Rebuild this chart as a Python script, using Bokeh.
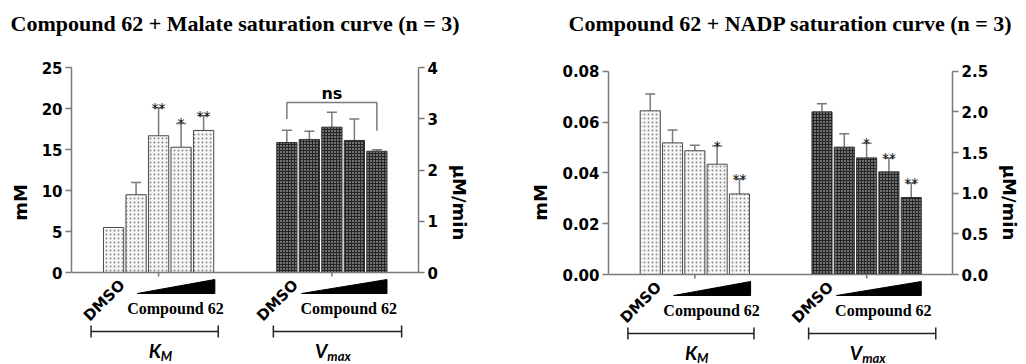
import math
import numpy as np
from bokeh.plotting import figure
from bokeh.layouts import row
from bokeh.models import (Range1d, LinearAxis, FixedTicker, ColumnDataSource, Whisker,
                          TeeHead, PrintfTickFormatter, Span)
from bokeh.core.properties import value
from bokeh.embed import file_html
from bokeh.resources import INLINE

# ---------------- data ----------------
conditions = ["DMSO", "Compound 62 (1)", "Compound 62 (2)", "Compound 62 (3)", "Compound 62 (4)"]

malate_km = [5.5, 9.5, 16.7, 15.3, 17.35]            # mM (left axis)
malate_km_err = [0.0, 1.5, 3.4, 2.9, 1.8]
malate_km_sig = ["", "", "**", "*", "**"]
malate_vmax = [2.54, 2.60, 2.84, 2.58, 2.37]         # µM/min (right axis)
malate_vmax_err = [0.24, 0.16, 0.29, 0.42, 0.03]
malate_vmax_sig = ["", "", "", "", ""]

nadp_km = [0.0644, 0.0518, 0.0487, 0.0434, 0.0317]   # mM (left axis)
nadp_km_err = [0.0066, 0.0051, 0.0022, 0.0072, 0.0058]
nadp_km_sig = ["", "", "", "*", "**"]
nadp_vmax = [2.00, 1.566, 1.434, 1.262, 0.947]       # µM/min (right axis)
nadp_vmax_err = [0.10, 0.164, 0.181, 0.168, 0.176]
nadp_vmax_sig = ["", "", "*", "**", "**"]

malate_left_ticks = [0, 5, 10, 15, 20, 25]
malate_right_ticks = [0, 1, 2, 3, 4]
nadp_left_ticks = [0.00, 0.02, 0.04, 0.06, 0.08]
nadp_right_ticks = [0.0, 0.5, 1.0, 1.5, 2.0, 2.5]

titles = ["Compound 62 + Malate saturation curve (n = 3)",
          "Compound 62 + NADP saturation curve (n = 3)"]
group_labels = [("K", "M"), ("V", "max")]
control_label = "DMSO"
drug_label = "Compound 62"
ns_label = "ns"

# ---------------- layout constants ----------------
H = 364
FRAME_TOP = 40
X_START, X_END = -1.87, 13.55
GROUP_SHIFT = 7.7
BAR_W = 0.9
GRAY = "#7a7a7a"
TICK_FONT = "DejaVu Sans"


def style_axis(ax, ticks, fmt, label, bounds):
    ax.ticker = FixedTicker(ticks=ticks)
    ax.formatter = PrintfTickFormatter(format=fmt)
    ax.bounds = bounds
    ax.axis_line_color = GRAY
    ax.axis_line_width = 1.5
    ax.major_tick_line_color = GRAY
    ax.major_tick_line_width = 1.5
    ax.major_tick_out = 6
    ax.major_tick_in = 0
    ax.minor_tick_line_color = None
    ax.major_label_text_font = TICK_FONT
    ax.major_label_text_font_style = "bold"
    ax.major_label_text_font_size = "15px"
    ax.major_label_text_color = "black"
    ax.major_label_standoff = 3
    ax.axis_label = label
    ax.axis_label_text_font = TICK_FONT
    ax.axis_label_text_font_style = "bold"
    ax.axis_label_text_font_size = "18px"
    ax.axis_label_text_color = "black"
    ax.axis_label_standoff = 8


def make_panel(title, km, km_err, km_sig, vmax, vmax_err, vmax_sig,
               lticks, rticks, lfmt, rfmt, width, bl, br, base_px, top_px,
               title_off, show_ns):
    lmax = lticks[-1]
    rmax = rticks[-1]
    scale = (base_px - top_px) / lmax
    y0 = -(H - base_px) / scale
    y1 = lmax + (top_px - FRAME_TOP) / scale
    r = rmax / lmax

    def py(px):  # pixels below the baseline -> data units (left axis)
        return -px / scale

    p = figure(width=width, height=H, x_range=Range1d(X_START, X_END),
               y_range=Range1d(y0, y1), x_axis_type=None,
               toolbar_location=None, output_backend="svg",
               min_border_left=bl, min_border_right=br,
               min_border_top=FRAME_TOP, min_border_bottom=0)
    p.extra_y_ranges = {"rate": Range1d(y0 * r, y1 * r)}
    p.outline_line_color = None
    p.grid.visible = False
    p.background_fill_color = "white"
    p.border_fill_color = "white"

    p.title.text = title
    p.title.text_font = "Liberation Serif"
    p.title.text_font_style = "bold"
    p.title.text_font_size = "22px"
    p.title.text_color = "black"
    p.title.align = "left"
    p.title.offset = title_off

    style_axis(p.yaxis[0], lticks, lfmt, "mM", (0, lmax))
    rax = LinearAxis(y_range_name="rate")
    style_axis(rax, rticks, rfmt, "µM/min", (0, rmax))
    rax.axis_label_orientation = "vertical"
    p.add_layout(rax, "right")

    km_x = np.arange(len(km), dtype=float)
    vm_x = km_x + GROUP_SHIFT

    # bars
    p.vbar(x=km_x, top=km, width=BAR_W, bottom=0, fill_color="#f7f7f7",
           line_color="#4a4a4a", line_width=1, hatch_pattern="dot",
           hatch_color="#8a8a8a", hatch_scale=4, hatch_weight=1)
    p.vbar(x=vm_x, top=vmax, width=BAR_W, bottom=0, fill_color="#262626",
           line_color="#333333", line_width=1, hatch_pattern="dot",
           hatch_color="#dddddd", hatch_scale=3, hatch_weight=1.4,
           y_range_name="rate")

    # error bars (upper only)
    for xs, vals, errs, sig, rng in ((km_x, km, km_err, km_sig, "default"),
                                     (vm_x, vmax, vmax_err, vmax_sig, "rate")):
        keep = [i for i, e in enumerate(errs) if e > 0]
        src = ColumnDataSource(dict(
            x=[xs[i] for i in keep],
            lower=[vals[i] for i in keep],
            upper=[vals[i] + errs[i] for i in keep],
            sig=[sig[i] for i in keep]))
        w = Whisker(source=src, base="x", lower="lower", upper="upper",
                    dimension="height", line_color=GRAY, line_width=1.5,
                    upper_head=TeeHead(size=10, line_color=GRAY, line_width=1.5),
                    lower_head=None, y_range_name=rng)
        p.add_layout(w)
        p.text(x="x", y="upper", text="sig", source=src, text_align="center",
               text_baseline="alphabetic", text_font=value(TICK_FONT),
               text_font_size="14px", text_color="black", y_range_name=rng)

    # baseline and group ticks
    p.add_layout(Span(location=0, dimension="width", line_color=GRAY, line_width=1.5))
    centers = [km_x[2], vm_x[2]]
    p.segment(x0=centers, y0=[0, 0], x1=centers, y1=[py(4)] * 2,
              line_color=GRAY, line_width=1.5)

    # ns bracket over Vmax
    if show_ns:
        top_ns = 3.32 / 4 * rmax
        p.line(x=[vm_x[0], vm_x[0], vm_x[4], vm_x[4]],
               y=[3.0 / 4 * rmax, top_ns, top_ns, 2.77 / 4 * rmax],
               line_color=GRAY, line_width=1.5, y_range_name="rate")
        p.text(x=[vm_x[2]], y=[3.5 / 4 * rmax], text=[ns_label], text_align="center",
               text_baseline="alphabetic", text_font=value(TICK_FONT),
               text_font_style="bold", text_font_size="16px", y_range_name="rate")

    # annotations below the axis
    offs = [0.0, GROUP_SHIFT]
    p.text(x=[o - 0.42 for o in offs], y=[py(28)] * 2, text=[control_label] * 2,
           angle=math.pi / 4, text_align="center", text_baseline="middle",
           text_font=value(TICK_FONT), text_font_style="bold", text_font_size="15px")
    wedge_x = [(1.05, 4.5), (0.65, 4.45)]
    p.patches(xs=[[o + a, o + b, o + b] for o, (a, b) in zip(offs, wedge_x)],
              ys=[[py(21), py(21), py(7)]] * 2, fill_color="black", line_color="black")
    p.text(x=[o + 2.75 for o in offs], y=[py(36)] * 2, text=[drug_label] * 2,
           text_align="center", text_baseline="middle",
           text_font=value("Liberation Serif"), text_font_style="bold",
           text_font_size="16px")
    br_x = [(-1.0, 4.65), (-0.6, 5.1)]
    xs, ys = [], []
    for o, (a, b) in zip(offs, br_x):
        xs += [[o + a, o + b], [o + a, o + a], [o + b, o + b]]
        ys += [[py(59), py(59)], [py(53), py(65)], [py(53), py(65)]]
    p.multi_line(xs=xs, ys=ys, line_color="#222222", line_width=1.5)
    main_x = [2.1, GROUP_SHIFT + 1.8]
    p.text(x=main_x, y=[py(66)] * 2, text=[g[0] for g in group_labels],
           text_align="right", text_baseline="top", text_font=value("Lato"),
           text_font_style="bold italic", text_font_size="19px")
    p.text(x=main_x, y=[py(75)] * 2, text=[g[1] for g in group_labels],
           text_align="left", text_baseline="top", text_font=value("Lato"),
           text_font_style="bold italic", text_font_size="13px")
    return p


p1 = make_panel(titles[0], malate_km, malate_km_err, malate_km_sig,
                malate_vmax, malate_vmax_err, malate_vmax_sig,
                malate_left_ticks, malate_right_ticks, "%d", "%d",
                width=510, bl=71, br=92, base_px=272, top_px=67.3,
                title_off=-61, show_ns=True)
p2 = make_panel(titles[1], nadp_km, nadp_km_err, nadp_km_sig,
                nadp_vmax, nadp_vmax_err, nadp_vmax_sig,
                nadp_left_ticks, nadp_right_ticks, "%.2f", "%.1f",
                width=516, bl=98, br=74, base_px=274, top_px=70.7,
                title_off=-40, show_ns=False)

layout = row(p1, p2)
open("out.html", "w").write(file_html(layout, INLINE))
